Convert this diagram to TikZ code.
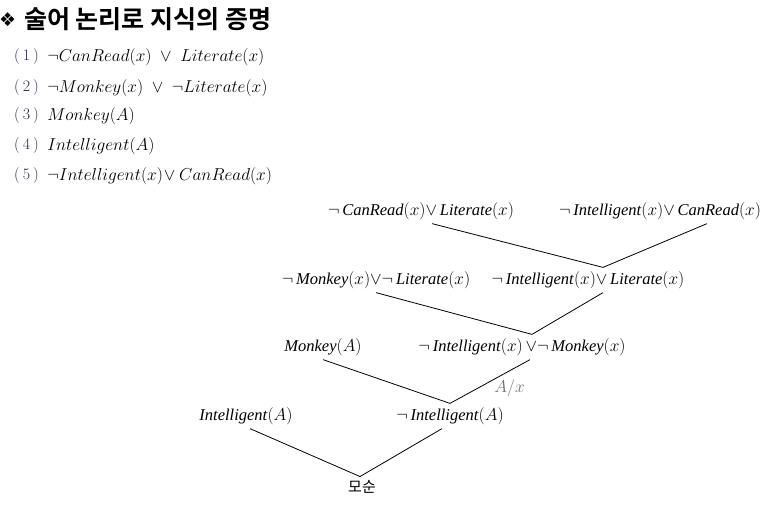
\documentclass[tikz,border=0pt]{standalone}
\usepackage{amsmath,amssymb}
\usepackage{fontspec}
\usepackage{tikz}
\usepackage{xcolor}
\usetikzlibrary{positioning}
\newfontfamily\kfont[BoldFont={Noto Sans CJK KR Bold}]{Noto Sans CJK KR}
\newfontfamily\symfont{DejaVu Sans}
\newfontfamily\treefont{Liberation Serif}
\newcommand{\pr}[2]{\textit{#1}$(#2)$}
\definecolor{numblue}{HTML}{2A2A48}
\definecolor{subgray}{HTML}{707070}

\begin{document}
\begin{tikzpicture}[x=1pt,y=-1pt,inner sep=0pt]
\tikzstyle{every node}=[font=\fontsize{16.5}{18}\selectfont]
\tikzstyle{num}=[anchor=west,text=numblue,font=\fontsize{16}{18}\selectfont]
\tikzstyle{clause}=[outer sep=4pt,font=\treefont\fontsize{16.5}{18}\selectfont]
\tikzstyle{resolve}=[line width=0.8pt]
\useasboundingbox (0,0) rectangle (772,504);

\node[anchor=west,font=\kfont\bfseries\fontsize{25}{28}\selectfont] (title) at (-1,19)
  {\raisebox{2pt}{\symfont\fontsize{19}{20}\selectfont ❖}\hspace{8pt}술어 논리로 지식의 증명};

% premises
\foreach \i/\y/\f in {
  1/57/{$\neg CanRead(x)\;\vee\;Literate(x)$},
  2/88/{$\neg Monkey(x)\;\vee\;\neg Literate(x)$},
  3/116/{$Monkey(A)$},
  4/146/{$Intelligent(A)$},
  5/176/{$\neg Intelligent(x)\!\vee CanRead(x)$}}
{
  \node[num] (n\i) at (14,\y) {(\hspace{3pt}\i\hspace{3pt})};
  \node[right=8pt of n\i] (f\i) {\f};
}

% resolution tree
\node[clause] (c1) at (421,211) {$\neg$\,\pr{CanRead}{x}$\vee$\,\pr{Literate}{x}};
\node[clause] (c2) at (660,211) {$\neg$\,\pr{Intelligent}{x}$\vee$\,\pr{CanRead}{x}};
\node[clause] (c3) at (376,280) {$\neg$\,\pr{Monkey}{x}$\vee\neg$\,\pr{Literate}{x}};
\node[clause] (c4) at (588,280) {$\neg$\,\pr{Intelligent}{x}$\vee$\,\pr{Literate}{x}};
\node[clause] (c5) at (323,347) {\pr{Monkey}{A}};
\node[clause] (c6) at (522,347) {$\neg$\,\pr{Intelligent}{x}$\,\vee\neg$\,\pr{Monkey}{x}};
\node[clause] (c7) at (246,416) {\pr{Intelligent}{A}};
\node[clause] (c8) at (450,416) {$\neg$\,\pr{Intelligent}{A}};
\node[clause,font=\kfont\fontsize{15}{18}\selectfont] (c9) at (362,487) {모순};

\path[resolve]
([xshift=11pt]c1.south) edge ([xshift=15pt]c4.north)
([xshift=47pt]c2.south) edge ([xshift=15pt]c4.north)
(c3.south) edge ([xshift=10pt]c6.north)
([xshift=15pt]c4.south) edge ([xshift=10pt]c6.north)
(c5.south) edge (c8.north)
([xshift=8pt]c6.south) edge node[pos=0.45,anchor=north west,text=subgray,font=\fontsize{16}{18}\selectfont]{$A/x$} (c8.north)
([xshift=4pt]c7.south) edge ([xshift=-2pt]c9.north)
([xshift=-8pt]c8.south) edge ([xshift=-2pt]c9.north);
\end{tikzpicture}
\end{document}
